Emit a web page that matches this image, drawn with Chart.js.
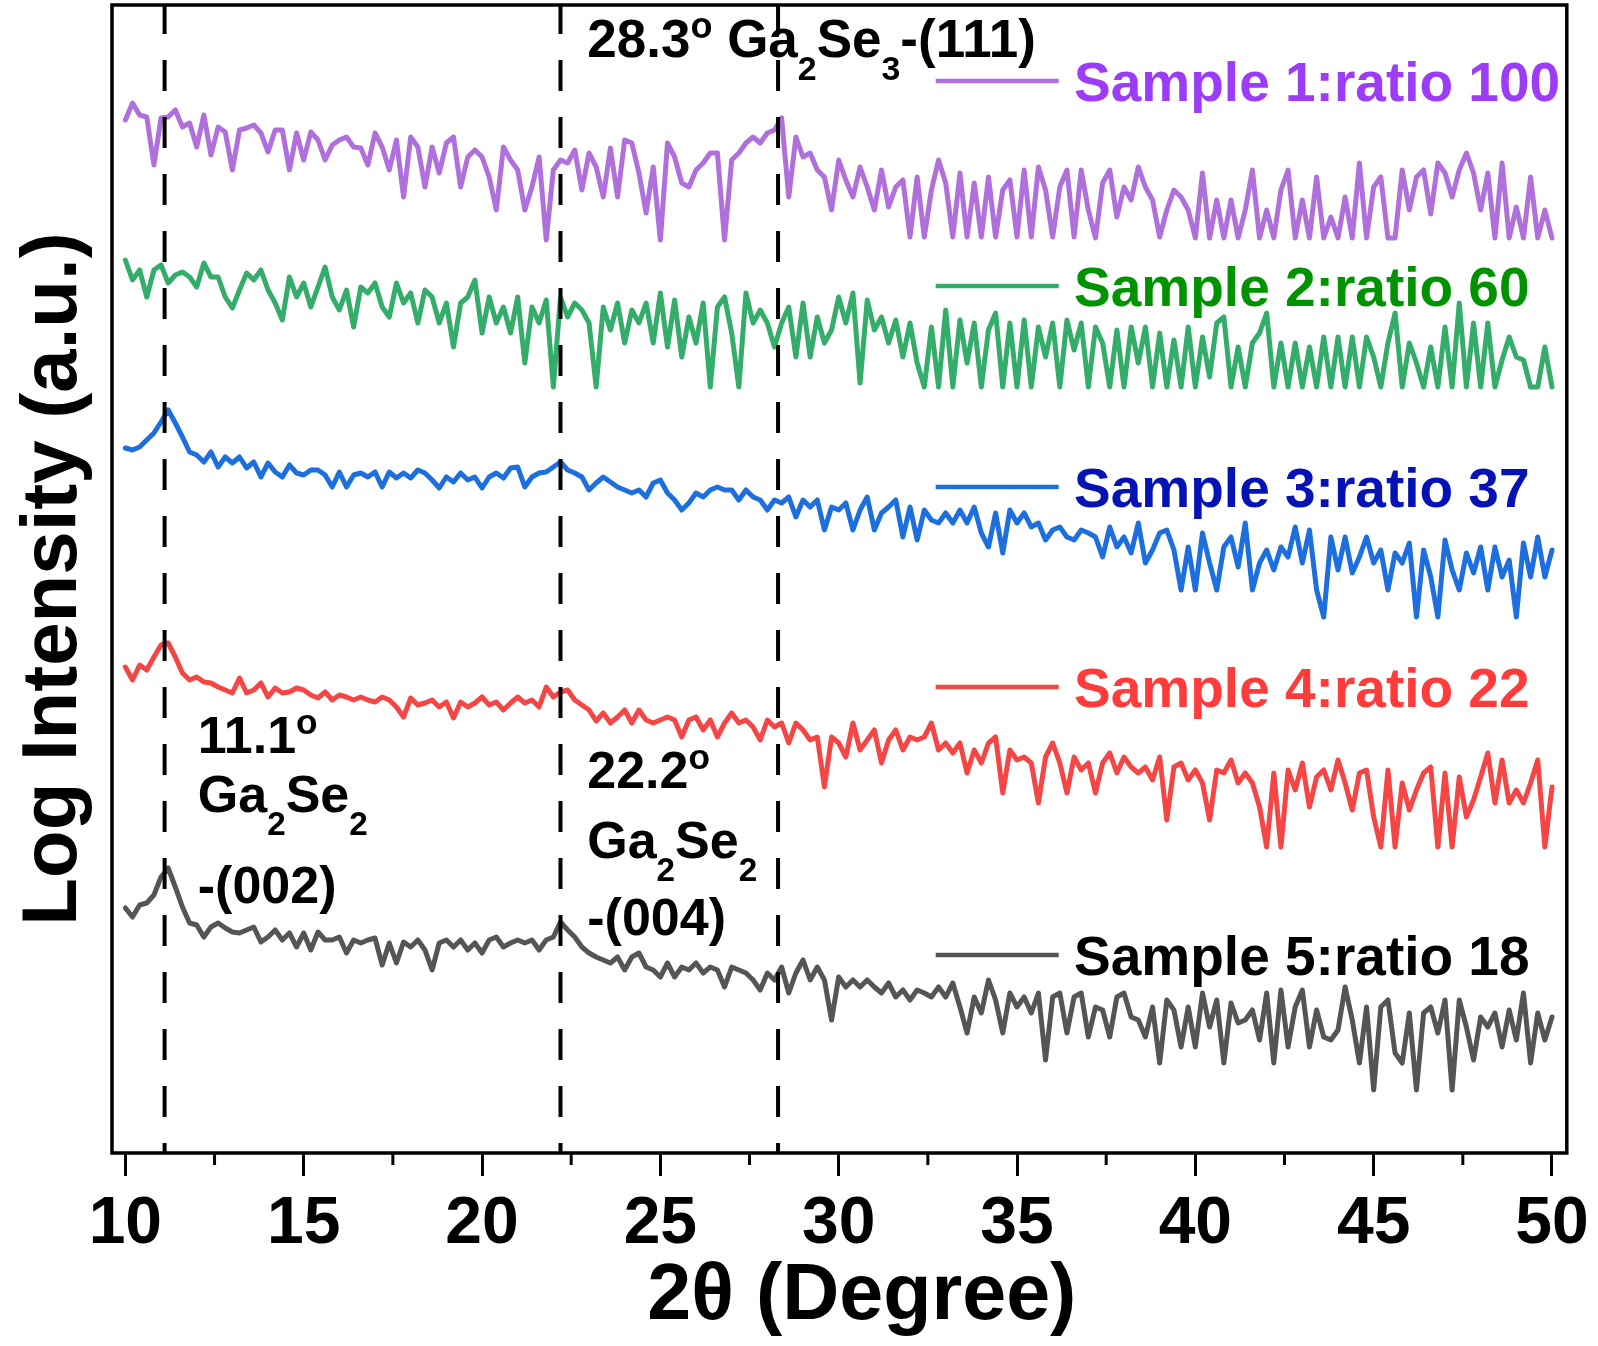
<!DOCTYPE html>
<html lang="en">
<head>
<meta charset="UTF-8">
<title>XRD – Log Intensity vs 2θ</title>
<script src="https://cdn.jsdelivr.net/npm/chart.js@4.4.1/dist/chart.umd.min.js"></script>
<style>
  html, body { margin: 0; padding: 0; background: #fff; }
  #wrap { width: 1598px; height: 1346px; }
</style>
</head>
<body>
<div id="wrap"><canvas id="xrd" width="1598" height="1346"></canvas></div>
<script>
const FONT = '"Liberation Sans", Arial, Helvetica, sans-serif';

// scan grid: 10° to 50° in 0.2° steps
const thetaStart = 10, thetaStep = 0.2, thetaCount = 201;
const twoTheta = Array.from({ length: thetaCount }, (_, i) => +(thetaStart + i * thetaStep).toFixed(1));

const xTicks = [10, 15, 20, 25, 30, 35, 40, 45, 50];
const xMinorTicks = [12.5, 17.5, 22.5, 27.5, 32.5, 37.5, 42.5, 47.5];
const peakPositions = [11.1, 22.2, 28.3];
const sampleNames = ['Sample 1:ratio 100', 'Sample 2:ratio 60', 'Sample 3:ratio 37', 'Sample 4:ratio 22', 'Sample 5:ratio 18'];
const xTitle = '2θ (Degree)';
const yTitle = 'Log Intensity (a.u.)';

// log intensity, stacked with offsets
const sample1 = [
  103.3, 105.0, 103.8, 103.6, 98.8, 103.5, 103.6, 104.3, 102.6, 103.0,
  100.6, 103.8, 99.8, 102.6, 102.1, 98.3, 102.3, 102.5, 102.8, 102.0,
  100.1, 102.3, 102.3, 98.3, 102.0, 99.3, 102.1, 101.3, 99.3, 100.8,
  101.3, 101.6, 100.6, 100.5, 98.8, 102.0, 100.6, 98.3, 101.3, 95.6,
  101.6, 100.6, 96.6, 100.6, 98.0, 101.0, 101.6, 96.6, 99.6, 100.3,
  99.6, 97.6, 94.3, 100.6, 99.3, 98.3, 94.3, 96.6, 99.6, 91.3,
  98.3, 99.3, 99.0, 100.3, 96.3, 100.0, 98.6, 95.6, 100.5, 95.6,
  101.3, 101.0, 98.0, 94.0, 98.6, 91.3, 101.0, 99.6, 97.0, 96.6,
  98.3, 99.0, 100.0, 100.0, 91.3, 99.3, 100.0, 101.0, 101.6, 101.0,
  102.0, 102.3, 103.5, 95.6, 101.6, 99.6, 100.0, 98.3, 97.6, 94.3,
  99.3, 97.3, 95.6, 98.6, 96.6, 94.3, 98.3, 94.6, 96.6, 97.3,
  91.6, 97.6, 91.6, 96.3, 99.3, 97.0, 91.6, 98.0, 91.6, 97.0,
  91.6, 97.6, 91.6, 96.3, 97.3, 91.6, 98.3, 91.6, 98.6, 96.3,
  91.6, 96.6, 98.3, 91.6, 98.3, 94.3, 91.5, 97.0, 98.3, 93.6,
  96.6, 95.3, 98.6, 96.6, 95.3, 91.6, 94.3, 96.3, 95.6, 94.3,
  91.5, 98.0, 91.5, 95.3, 91.5, 95.3, 91.5, 94.3, 98.3, 91.5,
  94.3, 91.5, 96.3, 98.3, 91.5, 95.3, 91.5, 97.6, 91.5, 93.6,
  91.5, 95.6, 91.5, 99.0, 91.5, 96.6, 97.6, 91.5, 91.5, 98.3,
  94.3, 97.6, 98.3, 93.9, 99.0, 98.0, 95.6, 98.3, 100.0, 98.0,
  94.3, 98.0, 91.5, 99.0, 91.5, 94.6, 91.5, 97.6, 91.5, 94.3,
  91.5
];
const sample2 = [
  89.3, 87.3, 88.3, 85.6, 88.3, 88.8, 87.0, 87.8, 88.1, 87.6,
  86.6, 89.0, 87.6, 87.6, 85.6, 84.5, 86.3, 88.0, 87.3, 88.3,
  86.3, 85.0, 83.3, 87.6, 85.6, 87.0, 84.6, 86.6, 88.6, 85.6,
  84.3, 86.3, 82.6, 86.6, 86.0, 87.0, 84.6, 83.6, 87.0, 85.0,
  86.0, 83.0, 86.3, 85.6, 83.0, 85.0, 80.6, 85.0, 85.6, 87.3,
  82.0, 85.6, 83.0, 84.6, 82.0, 85.6, 79.0, 84.6, 83.0, 85.3,
  76.6, 85.6, 83.6, 85.0, 84.3, 83.0, 76.6, 84.6, 82.3, 85.0,
  81.0, 84.3, 83.0, 85.0, 81.0, 86.0, 80.6, 85.3, 79.6, 83.6,
  81.0, 85.0, 76.6, 84.6, 85.6, 82.0, 76.6, 86.0, 83.0, 84.3,
  83.0, 80.6, 83.0, 84.6, 79.6, 85.0, 79.6, 83.6, 81.0, 82.3,
  85.6, 83.0, 86.0, 77.0, 85.3, 82.3, 83.6, 81.0, 83.3, 79.6,
  83.0, 79.0, 76.6, 82.6, 76.6, 84.3, 76.6, 83.3, 79.0, 83.0,
  76.6, 82.3, 84.0, 76.6, 83.0, 76.6, 83.3, 76.6, 82.6, 79.6,
  83.0, 76.6, 83.3, 80.3, 83.0, 76.6, 82.6, 81.0, 76.6, 82.3,
  76.6, 82.6, 79.0, 82.6, 76.6, 82.0, 76.6, 81.3, 76.6, 82.6,
  76.6, 81.6, 77.6, 83.0, 83.6, 76.6, 80.6, 76.6, 81.0, 82.0,
  84.0, 76.6, 81.0, 76.6, 81.0, 76.6, 80.6, 76.6, 81.6, 76.6,
  81.6, 76.6, 81.6, 76.6, 81.6, 79.6, 76.6, 81.0, 84.0, 76.6,
  81.0, 79.0, 76.6, 80.6, 76.6, 82.6, 76.6, 85.0, 76.6, 83.0,
  76.6, 83.0, 76.6, 79.3, 81.6, 79.6, 79.3, 76.6, 76.6, 80.6,
  76.6
];
const sample3 = [
  70.5, 70.3, 70.6, 71.3, 72.0, 73.1, 74.3, 73.0, 71.6, 70.1,
  69.8, 69.1, 70.1, 68.6, 69.6, 69.0, 69.6, 68.5, 69.1, 67.6,
  69.0, 68.1, 67.6, 68.8, 68.0, 67.8, 68.3, 68.3, 67.8, 66.6,
  68.1, 66.6, 67.8, 68.0, 67.6, 68.1, 66.6, 68.1, 67.5, 68.0,
  67.5, 68.3, 68.0, 67.3, 66.5, 67.6, 67.1, 68.0, 67.3, 67.6,
  66.5, 67.6, 68.0, 67.5, 68.5, 68.6, 66.6, 67.6, 68.0, 68.1,
  68.6, 69.1, 68.3, 68.0, 67.6, 66.3, 67.0, 67.6, 67.1, 66.6,
  66.3, 66.0, 66.3, 65.6, 67.0, 67.3, 66.0, 65.3, 64.3, 65.0,
  66.0, 65.6, 66.3, 66.6, 66.3, 66.3, 65.3, 66.3, 65.6, 65.3,
  64.3, 65.3, 65.0, 65.6, 63.6, 65.3, 64.6, 65.3, 62.3, 64.6,
  64.3, 65.0, 62.3, 64.3, 65.6, 62.3, 64.0, 64.6, 65.3, 61.6,
  64.6, 61.3, 64.3, 63.3, 63.0, 64.0, 63.0, 64.3, 63.0, 64.6,
  62.0, 60.6, 64.0, 60.0, 64.3, 63.0, 64.0, 62.6, 63.0, 61.3,
  62.3, 62.6, 61.6, 61.3, 62.3, 62.0, 61.6, 59.6, 62.6, 60.6,
  61.6, 60.0, 63.0, 59.0, 60.3, 62.0, 62.3, 60.3, 56.3, 60.6,
  56.3, 62.0, 59.0, 56.3, 60.6, 61.6, 58.6, 63.0, 56.3, 59.0,
  60.3, 58.3, 60.6, 59.6, 62.6, 59.0, 62.3, 56.3, 53.6, 61.6,
  58.3, 61.6, 58.0, 59.6, 61.6, 59.0, 60.3, 56.3, 60.0, 59.0,
  61.0, 53.6, 60.3, 57.6, 53.6, 61.3, 58.3, 56.3, 60.0, 58.0,
  60.6, 56.3, 60.6, 57.6, 59.3, 53.6, 61.0, 57.6, 61.6, 57.6,
  60.3
];
const sample4 = [
  48.6, 47.3, 48.8, 48.3, 49.6, 50.8, 51.0, 49.6, 48.0, 47.3,
  47.6, 47.1, 47.0, 46.6, 46.3, 46.0, 47.5, 46.0, 46.3, 47.0,
  45.6, 46.5, 46.0, 46.1, 46.5, 46.3, 45.8, 45.5, 46.1, 45.3,
  45.8, 45.6, 45.3, 45.6, 45.3, 45.1, 45.6, 45.3, 44.6, 43.6,
  45.5, 44.8, 45.0, 45.3, 44.6, 45.1, 43.5, 45.1, 44.6, 45.0,
  45.6, 44.8, 45.1, 44.3, 45.0, 45.6, 45.0, 45.3, 44.6, 46.6,
  45.6, 46.1, 46.3, 45.3, 44.8, 44.3, 43.2, 44.0, 43.0, 43.6,
  44.3, 43.0, 44.3, 43.3, 43.0, 43.3, 43.6, 43.3, 41.6, 43.3,
  43.6, 42.3, 43.3, 41.6, 43.0, 44.0, 43.0, 43.3, 42.6, 41.3,
  43.3, 42.6, 43.0, 41.0, 43.0, 42.3, 41.3, 41.6, 36.6, 41.6,
  41.0, 39.6, 43.0, 40.3, 41.3, 42.3, 39.0, 41.3, 42.3, 40.3,
  41.6, 41.3, 41.6, 43.0, 40.3, 41.0, 40.0, 41.0, 38.0, 40.3,
  39.0, 41.0, 41.6, 36.0, 40.3, 39.3, 39.6, 39.0, 35.0, 39.6,
  41.0, 39.0, 36.0, 39.6, 38.3, 39.0, 36.0, 39.0, 40.0, 38.0,
  39.6, 38.6, 38.0, 38.6, 37.3, 39.6, 33.3, 38.6, 39.0, 37.3,
  38.3, 37.0, 33.3, 38.3, 38.0, 39.3, 37.0, 38.0, 37.0, 34.6,
  30.6, 38.0, 30.6, 38.3, 36.3, 39.0, 34.6, 37.6, 38.3, 36.3,
  39.3, 37.0, 34.3, 38.0, 38.3, 33.6, 30.6, 38.3, 30.6, 37.0,
  34.3, 36.3, 38.0, 38.6, 30.6, 38.0, 30.6, 37.6, 33.6, 35.3,
  37.6, 40.0, 35.0, 39.3, 35.0, 36.3, 35.0, 37.0, 39.3, 30.6,
  36.6
];
const sample5 = [
  24.5, 23.6, 24.8, 25.0, 25.8, 27.6, 28.5, 26.6, 24.6, 23.0,
  22.8, 21.6, 22.6, 23.0, 22.5, 22.1, 22.0, 22.3, 22.6, 21.1,
  21.6, 22.3, 21.3, 22.0, 20.6, 22.0, 20.3, 22.1, 21.3, 21.3,
  21.6, 20.0, 21.3, 21.0, 21.3, 21.5, 18.8, 21.0, 19.0, 21.1,
  20.6, 21.3, 20.3, 18.3, 21.0, 21.3, 20.6, 21.3, 20.3, 21.0,
  20.0, 21.3, 21.6, 20.6, 21.0, 21.3, 21.0, 21.3, 20.3, 21.3,
  21.6, 23.1, 22.3, 21.6, 20.6, 20.0, 19.6, 19.3, 19.0, 19.6,
  18.3, 19.6, 20.0, 18.6, 18.3, 17.6, 19.0, 17.6, 18.6, 18.3,
  19.0, 18.0, 18.6, 18.3, 16.6, 18.6, 18.3, 18.0, 17.3, 16.3,
  18.0, 17.3, 18.6, 16.0, 18.0, 19.3, 17.3, 18.6, 17.3, 13.3,
  17.6, 16.6, 17.3, 16.6, 17.3, 16.6, 16.0, 17.0, 15.6, 16.3,
  15.3, 16.3, 16.0, 15.6, 16.6, 15.6, 17.0, 14.6, 12.0, 15.6,
  14.0, 17.3, 15.3, 12.0, 16.0, 14.6, 15.6, 14.0, 16.0, 9.3,
  15.6, 16.0, 12.0, 15.6, 16.0, 11.6, 14.6, 14.3, 11.6, 15.6,
  16.0, 13.6, 13.3, 11.6, 14.6, 9.0, 15.3, 14.3, 10.6, 14.6,
  10.6, 16.0, 12.6, 15.3, 9.0, 15.0, 13.0, 13.3, 14.3, 11.3,
  16.0, 9.0, 16.3, 10.6, 14.6, 16.3, 10.6, 14.3, 11.6, 11.3,
  12.3, 16.6, 13.3, 9.0, 14.6, 6.3, 14.6, 15.3, 10.0, 9.0,
  14.0, 6.3, 14.0, 14.6, 12.0, 15.3, 6.3, 15.3, 12.6, 9.3,
  13.6, 12.6, 14.0, 10.6, 14.3, 11.3, 16.0, 9.0, 14.0, 11.3,
  13.6
];

const series = [sample1, sample2, sample3, sample4, sample5];
const lineColors = ['#B070DC', '#34AC6A', '#1E6FDE', '#F54646', '#555555'];
const labelColors = ['#9C3CF7', '#009300', '#0613B4', '#FF3C3C', '#000000'];

// legend rows sit beside each curve (y in axis units)
const legendRowY = [107.2, 86.7, 66.6, 46.6, 19.8];
const legendLine = { from: 32.72, to: 36.17, textAt: 36.6 };

// peak labels: anchor (2θ, y) is the left end of the text baseline
const peakNotes = [
  { x: 22.95, y: 109.6, size: 53, parts: [{ t: '28.3' }, { t: 'o', sup: 1 }, { t: ' Ga' }, { t: '2', sub: 1 }, { t: 'Se' }, { t: '3', sub: 1 }, { t: '-(111)' }] },
  { x: 12.03, y: 40.0, size: 52, parts: [{ t: '11.1' }, { t: 'o', sup: 1 }] },
  { x: 12.03, y: 34.1, size: 52, parts: [{ t: 'Ga' }, { t: '2', sub: 1 }, { t: 'Se' }, { t: '2', sub: 1 }] },
  { x: 12.03, y: 25.0, size: 52, parts: [{ t: '-(002)' }] },
  { x: 22.95, y: 36.5, size: 52, parts: [{ t: '22.2' }, { t: 'o', sup: 1 }] },
  { x: 22.95, y: 29.5, size: 52, parts: [{ t: 'Ga' }, { t: '2', sub: 1 }, { t: 'Se' }, { t: '2', sub: 1 }] },
  { x: 22.95, y: 21.8, size: 52, parts: [{ t: '-(004)' }] }
];

function drawRich(ctx, parts, x, y, size) {
  let cx = x;
  parts.forEach(p => {
    let fs = size, dy = 0;
    if (p.sub) { fs = size * 0.64; dy = size * 0.44; }
    if (p.sup) { fs = size * 0.68; dy = -size * 0.36; }
    ctx.font = `bold ${fs}px ${FONT}`;
    ctx.fillText(p.t, cx, y + dy);
    cx += ctx.measureText(p.t).width;
  });
}

const overlay = {
  id: 'overlay',
  afterDatasetsDraw(chart) {
    const { ctx, chartArea: a, scales: { x, y } } = chart;
    ctx.save();
    ctx.strokeStyle = '#000';

    // dashed reference lines
    ctx.lineWidth = 4;
    ctx.setLineDash([31, 26]);
    ctx.lineDashOffset = 2;
    peakPositions.forEach(p => {
      const px = x.getPixelForValue(p);
      ctx.beginPath();
      ctx.moveTo(px, a.top);
      ctx.lineTo(px, a.bottom);
      ctx.stroke();
    });
    ctx.setLineDash([]);

    // plot frame
    ctx.lineWidth = 3.5;
    ctx.strokeRect(a.left, a.top, a.right - a.left, a.bottom - a.top);

    // minor ticks on the 2θ axis
    ctx.lineWidth = 3;
    xMinorTicks.forEach(v => {
      const px = x.getPixelForValue(v);
      ctx.beginPath();
      ctx.moveTo(px, a.bottom);
      ctx.lineTo(px, a.bottom + 12);
      ctx.stroke();
    });

    // axis title under the tick labels
    ctx.fillStyle = '#000';
    ctx.textAlign = 'center';
    ctx.textBaseline = 'alphabetic';
    ctx.font = `bold 79px ${FONT}`;
    ctx.fillText(xTitle, x.getPixelForValue(30.65), 1319);

    // peak annotations
    ctx.textAlign = 'left';
    peakNotes.forEach(n => drawRich(ctx, n.parts, x.getPixelForValue(n.x), y.getPixelForValue(n.y), n.size));

    // legend
    ctx.lineCap = 'butt';
    chart.data.datasets.forEach((ds, i) => {
      const py = y.getPixelForValue(legendRowY[i]);
      ctx.strokeStyle = ds.borderColor;
      ctx.lineWidth = 4.5;
      ctx.beginPath();
      ctx.moveTo(x.getPixelForValue(legendLine.from), py);
      ctx.lineTo(x.getPixelForValue(legendLine.to), py);
      ctx.stroke();
      ctx.fillStyle = labelColors[i];
      ctx.font = `bold 55px ${FONT}`;
      ctx.fillText(ds.label, x.getPixelForValue(legendLine.textAt), py + 20);
    });
    ctx.restore();
  }
};

const datasets = series.map((vals, i) => ({
  label: sampleNames[i],
  data: vals.map((v, j) => ({ x: twoTheta[j], y: v })),
  borderColor: lineColors[i],
  borderWidth: 5,
  pointRadius: 0,
  tension: 0,
  borderJoinStyle: 'round',
  borderCapStyle: 'round'
}));

new Chart(document.getElementById('xrd'), {
  type: 'line',
  data: { datasets },
  options: {
    responsive: false,
    animation: false,
    layout: { padding: { top: 5, right: 29, left: 0, bottom: 0 } },
    plugins: { legend: { display: false }, tooltip: { enabled: false } },
    scales: {
      x: {
        type: 'linear',
        min: 9.625,
        max: 50.415,
        afterBuildTicks: s => { s.ticks = xTicks.map(v => ({ value: v })); },
        afterFit: s => { s.height = 193; },
        grid: { drawOnChartArea: false, drawTicks: true, tickLength: 23, tickWidth: 3, tickColor: '#000' },
        border: { display: false },
        ticks: { color: '#000', padding: 9, maxRotation: 0, autoSkip: false, font: { family: FONT, size: 66, weight: 'bold' } },
        title: { display: false }
      },
      y: {
        min: 0,
        max: 114.8,
        afterFit: s => { s.width = 112; },
        grid: { display: false },
        border: { display: false },
        ticks: { display: false },
        title: { display: true, text: yTitle, color: '#000', padding: { top: 8, bottom: 0 }, font: { family: FONT, size: 78, weight: 'bold' } }
      }
    }
  },
  plugins: [overlay]
});
</script>
</body>
</html>
